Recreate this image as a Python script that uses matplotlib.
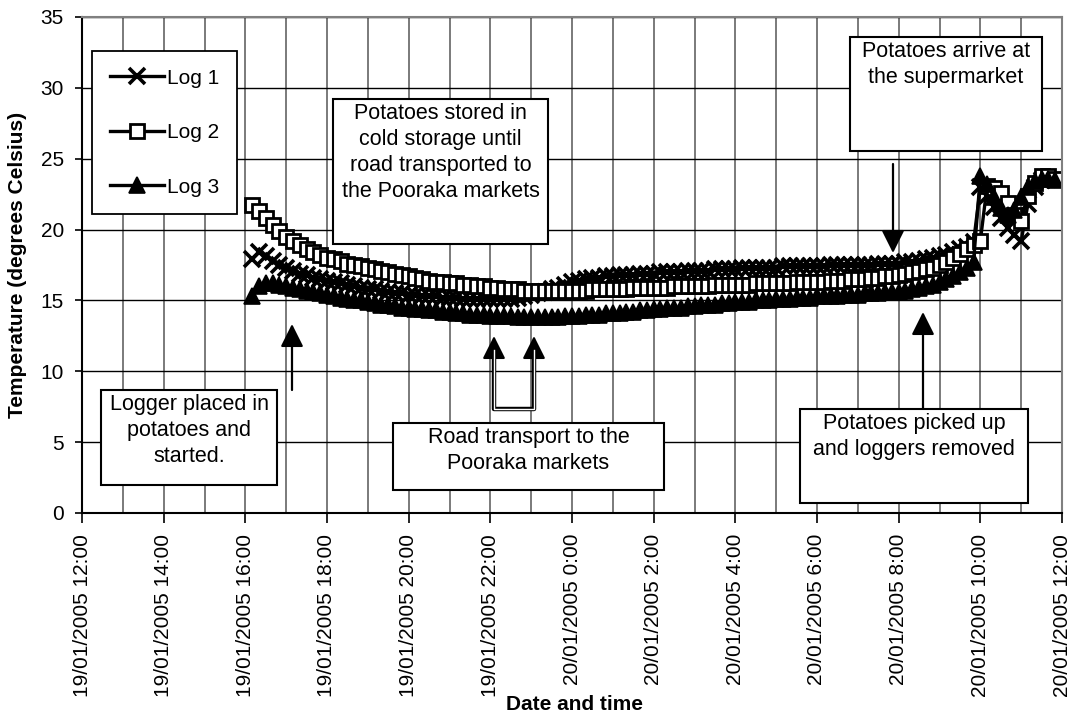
import datetime
import numpy as np
import pandas as pd
import matplotlib
matplotlib.use('Agg')
from matplotlib import pyplot as plt
import matplotlib.dates as mdates
from matplotlib.patches import Rectangle
from matplotlib.lines import Line2D

plt.rcParams['font.family'] = ['Liberation Sans', 'DejaVu Sans']
plt.rcParams['font.size'] = 15

# logger readings, every 10 minutes from 19/01/2005 16:10 to 20/01/2005 11:50
start = datetime.datetime(2005, 1, 19, 16, 10)

log1 = [17.9, 18.4, 18.1, 17.8, 17.5,
        17.3, 17.1, 16.9, 16.8, 16.6, 16.5,
        16.4, 16.3, 16.2, 16.1, 16.0, 15.9,
        15.8, 15.8, 15.7, 15.6, 15.5, 15.5,
        15.4, 15.4, 15.3, 15.3, 15.3, 15.2,
        15.2, 15.2, 15.1, 15.1, 15.1, 15.1,
        15.1, 15.1, 15.1, 15.1, 15.2, 15.3,
        15.4, 15.5, 15.6, 15.8, 15.9, 16.1,
        16.3, 16.4, 16.5, 16.6, 16.6, 16.7,
        16.7, 16.8, 16.8, 16.8, 16.9, 16.9,
        16.9, 17.0, 17.0, 17.0, 17.0, 17.1,
        17.1, 17.1, 17.1, 17.2, 17.2, 17.2,
        17.2, 17.3, 17.3, 17.3, 17.3, 17.3,
        17.3, 17.4, 17.4, 17.4, 17.4, 17.4,
        17.4, 17.4, 17.5, 17.5, 17.5, 17.5,
        17.5, 17.5, 17.5, 17.6, 17.6, 17.6,
        17.6, 17.7, 17.7, 17.8, 17.9, 18.0,
        18.1, 18.2, 18.4, 18.6, 18.8, 19.1,
        23.0, 22.4, 21.6, 20.8, 20.1, 19.6,
        19.2, 21.8, 23.0, 23.5, 23.6, 23.5]

log2 = [21.7, 21.3, 20.8, 20.3, 19.9,
        19.5, 19.2, 18.9, 18.6, 18.4, 18.2,
        18.0, 17.9, 17.8, 17.6, 17.5, 17.4,
        17.3, 17.2, 17.1, 17.0, 16.9, 16.8,
        16.7, 16.6, 16.5, 16.4, 16.3, 16.3,
        16.2, 16.2, 16.1, 16.1, 16.0, 16.0,
        15.9, 15.9, 15.8, 15.8, 15.8, 15.7,
        15.7, 15.7, 15.7, 15.7, 15.7, 15.7,
        15.7, 15.7, 15.7, 15.8, 15.8, 15.8,
        15.8, 15.8, 15.8, 15.9, 15.9, 15.9,
        15.9, 15.9, 15.9, 16.0, 16.0, 16.0,
        16.0, 16.0, 16.0, 16.1, 16.1, 16.1,
        16.1, 16.1, 16.1, 16.2, 16.2, 16.2,
        16.2, 16.2, 16.2, 16.3, 16.3, 16.3,
        16.3, 16.3, 16.4, 16.4, 16.4, 16.5,
        16.5, 16.5, 16.6, 16.6, 16.7, 16.7,
        16.8, 16.9, 17.0, 17.1, 17.2, 17.3,
        17.5, 17.7, 18.0, 18.3, 18.6, 18.9,
        19.2, 23.1, 22.9, 22.6, 21.9, 21.0,
        20.6, 22.4, 23.3, 23.8, 23.8, 23.6]

log3 = [15.3, 16.0, 16.2, 16.2, 16.1,
        16.0, 15.9, 15.8, 15.7, 15.6, 15.5,
        15.4, 15.3, 15.2, 15.1, 15.0, 15.0,
        14.9, 14.8, 14.7, 14.7, 14.6, 14.5,
        14.5, 14.4, 14.4, 14.3, 14.3, 14.2,
        14.2, 14.1, 14.1, 14.0, 14.0, 14.0,
        13.9, 13.9, 13.9, 13.9, 13.8, 13.8,
        13.8, 13.8, 13.8, 13.8, 13.8, 13.9,
        13.9, 13.9, 14.0, 14.0, 14.0, 14.1,
        14.1, 14.1, 14.2, 14.2, 14.3, 14.3,
        14.4, 14.4, 14.5, 14.5, 14.5, 14.6,
        14.6, 14.7, 14.7, 14.7, 14.8, 14.8,
        14.9, 14.9, 14.9, 15.0, 15.0, 15.0,
        15.1, 15.1, 15.1, 15.2, 15.2, 15.2,
        15.3, 15.3, 15.3, 15.3, 15.4, 15.4,
        15.4, 15.5, 15.5, 15.5, 15.6, 15.6,
        15.6, 15.7, 15.8, 15.9, 16.0, 16.1,
        16.3, 16.5, 16.7, 17.0, 17.3, 17.7,
        23.8, 23.2, 22.3, 21.5, 21.0, 21.4,
        22.3, 23.0, 23.4, 23.6, 23.6, 23.5]

labels = ['Log 1', 'Log 2', 'Log 3']

times = pd.date_range(start, periods=len(log1), freq='10min')

W, H = 1077, 720
fig = plt.figure(figsize=(W/100, H/100), dpi=100)
ax = fig.add_axes([82/W, 1-513/H, 980/W, 496/H])

def fp(x, y):
    # pixel position -> figure fraction
    return (x/W, 1-y/H)

ax.plot(times, log1, color='black', lw=2.4, marker='x', ms=11, mew=2.6, label=labels[0])
ax.plot(times, log2, color='black', lw=2.4, marker='s', ms=10, mew=2.0, mfc='white', mec='black', label=labels[1])
ax.plot(times, log3, color='black', lw=2.4, marker='^', ms=11.5, mew=1.2, mfc='black', label=labels[2])

ax.set_xlim(datetime.datetime(2005, 1, 19, 12), datetime.datetime(2005, 1, 20, 12))
ax.set_ylim(0, 35)
ax.set_yticks(range(0, 36, 5))

ax.xaxis.set_major_locator(mdates.HourLocator(byhour=range(0, 24, 2)))
ax.xaxis.set_minor_locator(mdates.HourLocator())

def fmt(v, pos):
    d = mdates.num2date(v)
    return "%02d/%02d/%d %d:%02d" % (d.day, d.month, d.year, d.hour, d.minute)

ax.xaxis.set_major_formatter(plt.FuncFormatter(fmt))
plt.setp(ax.get_xticklabels(), rotation=90)

ax.set_axisbelow(True)
ax.yaxis.grid(True, color='black', lw=1.0)
ax.xaxis.grid(True, which='both', color='#707070', lw=1.3)
ax.tick_params(axis='x', which='major', length=7, width=1.2, pad=8)
ax.tick_params(axis='x', which='minor', length=0)
ax.tick_params(axis='y', length=5, width=1.2, pad=8)

for s in ['left', 'bottom']:
    ax.spines[s].set_color('black')
    ax.spines[s].set_linewidth(1.5)
for s in ['top', 'right']:
    ax.spines[s].set_color('#808080')
    ax.spines[s].set_linewidth(1.5)

fig.text(574/W, 1-705/H, 'Date and time', ha='center', va='center', weight='bold')
fig.text(18/W, 1-265/H, 'Temperature (degrees Celsius)', ha='center', va='center',
         rotation=90, weight='bold')

leg = ax.legend(loc='upper left', bbox_to_anchor=fp(92, 51), bbox_transform=fig.transFigure,
                borderaxespad=0, fancybox=False, edgecolor='black', framealpha=1,
                handlelength=2.6, handletextpad=0.15, labelspacing=1.7, borderpad=0.85,
                numpoints=1)
leg.get_frame().set_linewidth(1.3)

# text boxes: (left, top, right, bottom) in pixels, text
boxes = [
    ((333, 99, 548, 244), "Potatoes stored in\ncold storage until\nroad transported to\nthe Pooraka markets"),
    ((850, 37, 1042, 151), "Potatoes arrive at\nthe supermarket"),
    ((101, 390, 277, 485), "Logger placed in\npotatoes and\nstarted."),
    ((393, 423, 664, 490), "Road transport to the\nPooraka markets"),
    ((800, 409, 1028, 503), "Potatoes picked up\nand loggers removed"),
]
for (l, t, r, b), txt in boxes:
    x0, y0 = fp(l, b)
    x1, y1 = fp(r, t)
    fig.add_artist(Rectangle((x0, y0), x1-x0, y1-y0, transform=fig.transFigure,
                             facecolor='white', edgecolor='black', lw=1.5, zorder=3))
    fig.text((l+r)/2/W, 1-(t+4)/H, txt, ha='center', va='top', zorder=4,
             linespacing=1.32, fontsize=15.5)

def arrow(tail, tip):
    a = ax.annotate('', xy=fp(*tip), xytext=fp(*tail), xycoords='figure fraction',
                    textcoords='figure fraction',
                    arrowprops=dict(arrowstyle='-|>,head_length=1.4,head_width=0.7',
                                    mutation_scale=10, color='black', lw=1.6,
                                    shrinkA=0, shrinkB=0))
    a.set_zorder(5)

arrow((292, 390), (292, 324))
arrow((893, 164), (893, 253))
arrow((923, 409), (923, 312))

# bracket for road transport
bx = [494, 494, 534, 534]
by = [350, 409, 409, 350]
fx = [p/W for p in bx]
fy = [1-p/H for p in by]
fig.add_artist(Line2D(fx, fy, transform=fig.transFigure, color='black', lw=3.2, zorder=5))
fig.add_artist(Line2D(fx, fy, transform=fig.transFigure, color='white', lw=1.0, zorder=6))
arrow((494, 352), (494, 336))
arrow((534, 352), (534, 336))

fig.savefig('out.png', dpi=100)
